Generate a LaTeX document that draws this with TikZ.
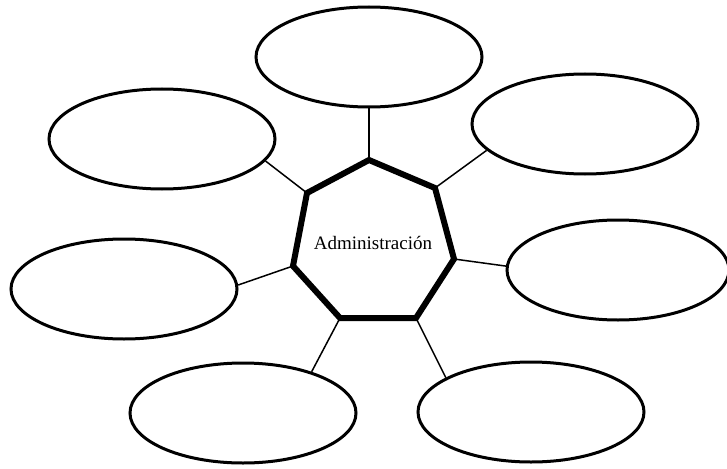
\documentclass[tikz,border=0pt]{standalone}
\usepackage{fontspec}
\setmainfont{Liberation Serif}
\usetikzlibrary{shapes.geometric}
\begin{document}
\begin{tikzpicture}[x=1pt,y=-1pt,
  bubble/.style={draw,ellipse,line width=3pt,minimum width=226pt,minimum height=100pt,inner sep=0pt},
  spoke/.style={line width=1.5pt},
  hept/.style={line width=6pt,line join=miter}]
\useasboundingbox (0,0) rectangle (727,468);
% heptagon vertices
\coordinate (v1) at (369,160);
\coordinate (v2) at (435,188);
\coordinate (v3) at (454,259);
\coordinate (v4) at (416,318);
\coordinate (v5) at (340,318);
\coordinate (v6) at (293,266);
\coordinate (v7) at (307,193);
% bubbles
\node[bubble] (e1) at (369,57) {};
\node[bubble] (e2) at (162,139) {};
\node[bubble] (e3) at (585,124) {};
\node[bubble] (e4) at (124,289) {};
\node[bubble,minimum width=222pt] (e5) at (618,270) {};
\node[bubble] (e6) at (243,413) {};
\node[bubble] (e7) at (531,412) {};
% spokes
\draw[spoke] (v1) -- (e1.-90);
\draw[spoke] (v7) -- (e2.-12);
\draw[spoke] (v2) -- (e3.-165);
\draw[spoke] (v6) -- (e4.2);
\draw[spoke] (v3) -- (e5.178);
\draw[spoke] (v5) -- (e6.31);
\draw[spoke] (v4) -- (e7.158);
% heptagon
\draw[hept] (v1) -- (v2) -- (v3) -- (v4) -- (v5) -- (v6) -- (v7) -- cycle;
\node[inner sep=0pt] (t) at (373,243) {\fontsize{19}{21}\selectfont Administración};
\end{tikzpicture}
\end{document}
